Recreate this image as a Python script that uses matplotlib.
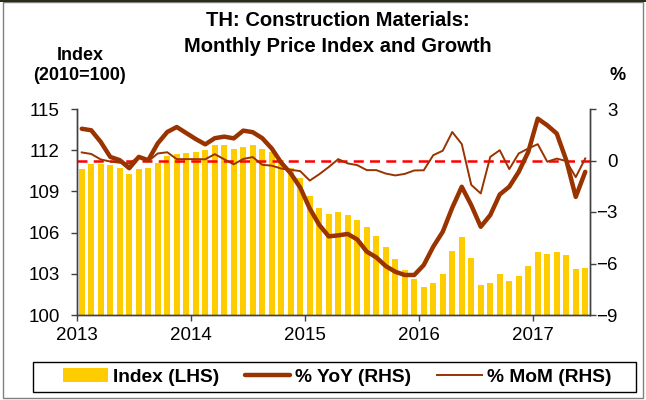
import numpy as np
import matplotlib
matplotlib.use('Agg')
import matplotlib.pyplot as plt
from matplotlib.patches import Rectangle

plt.rcParams['font.family'] = ['Liberation Sans', 'DejaVu Sans']

# monthly, Jan 2013 - Jun 2017
index_lhs = [110.6, 111.0, 111.0, 110.9, 110.7, 110.3, 110.6, 110.7, 111.1, 111.6, 111.7, 111.8,
             111.9, 112.0, 112.4, 112.4, 112.1, 112.2, 112.4, 112.1, 111.85, 111.3, 110.7, 110.0,
             108.7, 107.8, 107.35, 107.5, 107.25, 106.95, 106.4, 105.75, 104.95, 104.05, 103.25, 102.65,
             102.05, 102.35, 102.95, 104.65, 105.7, 104.15, 102.15, 102.35, 103.0, 102.45, 102.85, 103.6,
             104.6, 104.45, 104.6, 104.4, 103.35, 103.45]
yoy = [1.85, 1.76, 1.08, 0.21, 0.02, -0.45, 0.21, 0.02, 1.0, 1.66, 1.95, 1.6,
       1.25, 0.94, 1.3, 1.39, 1.29, 1.74, 1.65, 1.3, 0.7, -0.13, -0.75, -1.58,
       -2.8, -3.75, -4.42, -4.36, -4.28, -4.6, -5.31, -5.64, -6.15, -6.48, -6.67, -6.67,
       -6.09, -5.02, -4.15, -2.75, -1.53, -2.6, -3.86, -3.18, -1.98, -1.53, -0.66, 0.5,
       2.44, 2.05, 1.57, 0.02, -2.12, -0.66]
mom = [0.47, 0.38, 0.06, -0.06, -0.13, -0.18, 0.21, -0.04, 0.41, 0.48, 0.08, 0.08,
       0.08, 0.07, 0.37, 0.07, -0.22, 0.09, 0.2, -0.25, -0.3, -0.47, -0.54, -0.62,
       -1.17, -0.8, -0.38, 0.08, -0.17, -0.27, -0.56, -0.56, -0.76, -0.87, -0.78, -0.58,
       -0.57, 0.31, 0.57, 1.66, 0.96, -1.42, -1.92, 0.21, 0.6, -0.5, 0.41, 0.7,
       0.95, -0.07, 0.11, -0.03, -0.97, 0.12]
years = [2013, 2014, 2015, 2016, 2017]

x = 2013 + (np.arange(len(index_lhs)) + 0.5) / 12.0

fig = plt.figure(figsize=(6.46, 4.0), dpi=100)
ax = fig.add_axes([77/646, 1 - 315/400, (590 - 77)/646, (315 - 109)/400])
ax2 = ax.twinx()

bars = ax.bar(x, np.array(index_lhs) - 100, bottom=100, width=0.6/12, color='#FFCC00',
              label='Index (LHS)', zorder=2)
ax.set_ylim(100, 115)
ax.set_yticks([100, 103, 106, 109, 112, 115])
ax.set_xlim(2013, 2017.5)
ax.set_xticks(years)
ax.set_xticklabels([str(y) for y in years])

ax2.axhline(0, color='#FF0000', lw=1.8, ls=(0, (4, 2.5)), zorder=1)
l1, = ax2.plot(x, yoy, color='#993300', lw=3.2, label='% YoY (RHS)', solid_capstyle='round')
l2, = ax2.plot(x, mom, color='#993300', lw=1.4, label='% MoM (RHS)')
ax2.set_ylim(-9, 3)
ax2.set_yticks([-9, -6, -3, 0, 3])

for a in (ax, ax2):
    a.spines['top'].set_visible(False)
    for s in ('left', 'right', 'bottom'):
        a.spines[s].set_color('#404040')
        a.spines[s].set_linewidth(1.0)
    a.tick_params(direction='out', length=4.5, width=1, color='#404040', labelsize=13.5)
ax.tick_params(axis='y', pad=8)
ax.tick_params(axis='x', pad=4)
ax2.tick_params(axis='y', pad=15.5)
for lbl in ax2.get_yticklabels():
    lbl.set_ha('right')

fig.text(338/646, 1 - 20/400, 'TH: Construction Materials:', ha='center', va='center',
         fontsize=14.5, fontweight='bold')
fig.text(338/646, 1 - 47/400, 'Monthly Price Index and Growth', ha='center', va='center',
         fontsize=14.5, fontweight='bold')
fig.text(80/646, 1 - 56/400, 'Index', ha='center', va='center', fontsize=13, fontweight='bold')
fig.text(80/646, 1 - 76/400, '(2010=100)', ha='center', va='center', fontsize=13, fontweight='bold')
fig.text(618/646, 1 - 76/400, '%', ha='center', va='center', fontsize=13, fontweight='bold')

leg = fig.legend([bars, l1, l2], ['Index (LHS)', '% YoY (RHS)', '% MoM (RHS)'],
                 loc='center', bbox_to_anchor=(337/646, 1 - 377/400),
                 ncol=3, frameon=False, handlelength=2.35, handletextpad=0.25,
                 columnspacing=1.35, prop={'weight': 'bold', 'size': 13.8}, borderaxespad=0)

fig.patches.append(Rectangle((33/646, 1 - 392/400), 603/646, 30/400, transform=fig.transFigure,
                             fill=False, edgecolor='black', lw=1))
fig.patches.append(Rectangle((3/646, 2/400), 640/646, 396/400, transform=fig.transFigure,
                             fill=False, edgecolor='#808080', lw=1))
fig.patches.append(Rectangle((0, 1 - 2/400), 1, 2/400, transform=fig.transFigure,
                             color='#2b2b1a', lw=0))

fig.savefig('out.png', dpi=100)
